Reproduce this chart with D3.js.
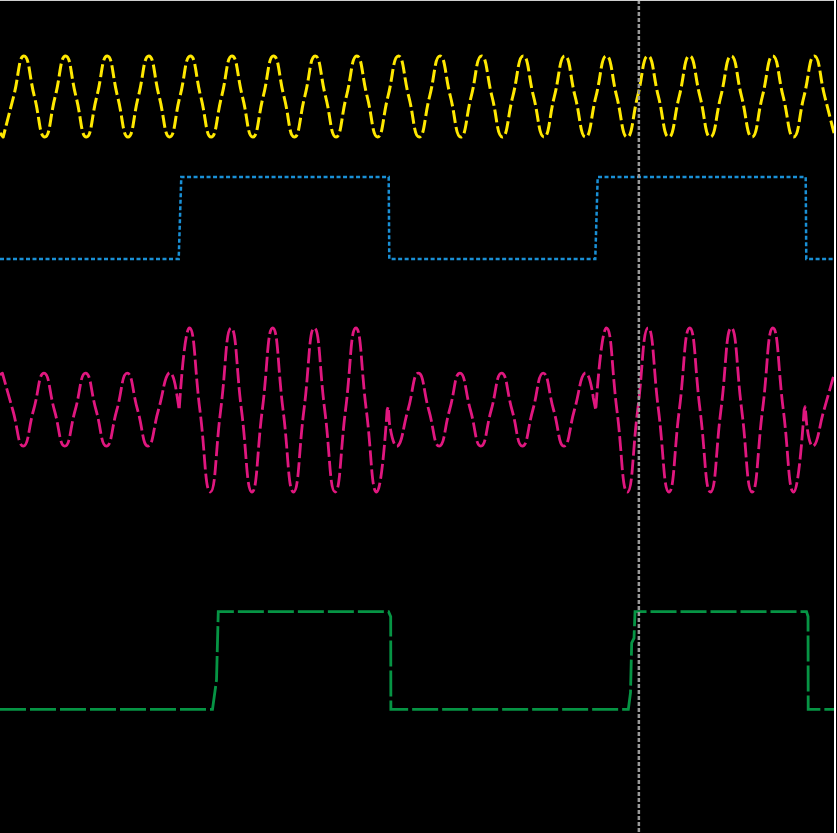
<!DOCTYPE html>
<html>
<head>
<meta charset="utf-8">
<script src="https://cdn.jsdelivr.net/npm/d3@7"></script>
<style>
html,body{margin:0;padding:0;background:#000;overflow:hidden}
svg{display:block}
</style>
</head>
<body>
<svg id="chart" width="837" height="833"></svg>
<script>
// ---------- data (time in ms, values in signal units) ----------
// carrier: key points (troughs, zero crossings, peaks)
const carrierT = [0, 3.8, 16.3, 28.7, 41.2, 53.6, 66.1, 78.5, 91.0, 103.4, 115.9, 128.4, 140.8, 153.3, 165.7, 178.2,
  190.6, 203.1, 215.5, 228.0, 240.4, 252.9, 265.4, 277.8, 290.3, 302.7, 315.2, 327.6, 340.1, 352.5, 365.0, 377.5,
  389.9, 402.4, 414.8, 427.3, 439.7, 452.2, 464.6, 477.1, 489.5, 502.0, 514.5, 526.9, 539.4, 551.8, 564.3, 576.7,
  589.2, 601.6, 614.1, 626.6, 639.0, 651.5, 663.9, 676.4, 688.8, 701.3, 713.7, 726.2, 738.6, 751.1, 763.6, 776.0,
  788.5, 800.9, 813.4, 825.8, 838.3, 850.7, 863.2, 875.7, 888.1, 900.6, 913.0, 925.5, 937.9, 950.4, 962.8, 975.3,
  987.7, 1000];
const carrierV = [-0.9,
  -1, 0, 1, 0, -1, 0, 1, 0, -1, 0, 1, 0, -1, 0, 1, 0, -1, 0, 1, 0,
  -1, 0, 1, 0, -1, 0, 1, 0, -1, 0, 1, 0, -1, 0, 1, 0, -1, 0, 1, 0,
  -1, 0, 1, 0, -1, 0, 1, 0, -1, 0, 1, 0, -1, 0, 1, 0, -1, 0, 1, 0,
  -1, 0, 1, 0, -1, 0, 1, 0, -1, 0, 1, 0, -1, 0, 1, 0, -1, 0, 1, 0,
  -1];

// data bits (square wave)
const dataT = [0, 214.0, 217.1, 465.5, 466.2, 712.9, 715.8, 964.9, 965.6, 1000];
const dataV = [0, 0, 1, 1, 0, 0, 1, 1, 0, 0];

// modulated signal key points
const modT = [0, 2.9, 15.3, 27.8, 40.2, 52.7, 65.1, 77.6, 90.1, 102.5, 115.0, 127.4, 139.9, 152.3, 164.8, 177.2,
  189.7, 202.2, 211.6, 214.6,
  226.9, 239.4, 251.9, 264.3, 276.8, 289.2, 301.7, 314.1, 326.6, 339.0, 351.5, 364.0, 376.4, 388.9, 401.3, 413.8,
  426.2, 438.7, 451.1, 463.6, 465.0, 466.3,
  476.2, 488.6, 501.1, 513.5, 526.0, 538.4, 550.9, 563.4, 575.8, 588.3, 600.7, 613.2, 625.6, 638.1, 650.5, 663.0,
  675.4, 687.9, 700.4, 710.5, 713.5,
  726.3, 738.8, 751.3, 763.7, 776.2, 788.6, 801.1, 813.5, 826.0, 838.4, 850.9, 863.4, 875.8, 888.3, 900.7, 913.2,
  925.6, 938.1, 950.5, 963.0, 964.3, 965.9,
  974.4, 986.8, 999.3];
const modV = [0.43, 0.45, 0, -0.44, 0, 0.45, 0, -0.44, 0, 0.45, 0, -0.44, 0, 0.45, 0, -0.44,
  0, 0.45, 0.2, 0,
  1, 0, -1, 0, 1, 0, -1, 0, 1, 0, -1, 0, 1, 0, -1, 0,
  1, 0, -1, 0, 0.04, -0.15,
  -0.44, 0, 0.45, 0, -0.44, 0, 0.45, 0, -0.44, 0, 0.45, 0, -0.44, 0, 0.45, 0,
  -0.44, 0, 0.45, 0.15, 0,
  1, 0, -1, 0, 1, 0, -1, 0, 1, 0, -1, 0, 1, 0, -1, 0,
  1, 0, -1, 0, 0.04, -0.15,
  -0.44, 0, 0.45];

// demodulated output
const outT = [0, 254.5, 259.3, 261.4, 465.3, 467.9, 468.1, 752.5, 755.1, 756.5, 759.3, 760.5, 965.9, 967.7, 967.9, 1000];
const outV = [0, 0, 0.3, 1, 1, 0.95, 0, 0, 0.17, 0.68, 0.73, 1, 1, 0.95, 0, 0];

// cursor marker
const cursorT = [765.1];

// ---------- layout ----------
const W = 837, H = 833, plotW = 835;
const svg = d3.select("#chart");
const x = d3.scaleLinear().domain([0, 1000]).range([0, plotW]);
const yCarrier = d3.scaleLinear().domain([-1, 1]).range([137, 56]);
const yData = d3.scaleLinear().domain([0, 1]).range([259, 177]);
const yMod = d3.scaleLinear().domain([-1, 1]).range([492, 328]);
const yOut = d3.scaleLinear().domain([0, 1]).range([709.3, 611.7]);

svg.append("rect").attr("x", 0).attr("y", 0).attr("width", W).attr("height", H).attr("fill", "#000");

const smooth = d3.line().curve(d3.curveCardinal.tension(-0.55));
const straight = d3.line();

function buildPath(T, V, yS) {
  const pts = T.map((t, i) => [x(t), yS(V[i])]);
  let d = "";
  let run = [pts[0]];
  const flush = () => {
    if (run.length > 1) {
      let s = smooth(run);
      d += d ? s.replace(/^M/, "L") : s;
    }
  };
  for (let i = 1; i < pts.length; i++) {
    if (T[i] - T[i - 1] >= 4) {
      run.push(pts[i]);
    } else {
      flush();
      if (!d) d = "M" + pts[i - 1][0] + "," + pts[i - 1][1];
      d += "L" + pts[i][0] + "," + pts[i][1];
      run = [pts[i]];
    }
  }
  flush();
  return d;
}

svg.append("path")
  .attr("d", buildPath(carrierT, carrierV, yCarrier))
  .attr("fill", "none").attr("stroke", "#ffe800").attr("stroke-width", 3)
  .attr("stroke-linejoin", "round")
  .attr("stroke-dasharray", "13,4");

svg.append("path")
  .attr("d", straight(dataT.map((t, i) => [x(t), yData(dataV[i])])))
  .attr("fill", "none").attr("stroke", "#1a90d6").attr("stroke-width", 2.5)
  .attr("stroke-dasharray", "4,2.5");

svg.append("path")
  .attr("d", buildPath(modT, modV, yMod))
  .attr("fill", "none").attr("stroke", "#e0177f").attr("stroke-width", 2.8)
  .attr("stroke-linejoin", "round")
  .attr("stroke-dasharray", "15,4");

svg.append("path")
  .attr("d", straight(outT.map((t, i) => [x(t), yOut(outV[i])])))
  .attr("fill", "none").attr("stroke", "#069444").attr("stroke-width", 2.8)
  .attr("stroke-dasharray", "26,4");

svg.selectAll("line.cursor").data(cursorT).enter().append("line")
  .attr("class", "cursor")
  .attr("x1", d => x(d)).attr("x2", d => x(d))
  .attr("y1", 0).attr("y2", H)
  .attr("stroke", "#9a9a9a").attr("stroke-width", 2.5)
  .attr("stroke-dasharray", "4,2");

// frame
svg.append("line").attr("x1", 0).attr("x2", plotW).attr("y1", 0.5).attr("y2", 0.5)
  .attr("stroke", "#cfcfcf").attr("stroke-width", 1);
svg.append("line").attr("x1", plotW).attr("x2", plotW).attr("y1", 0).attr("y2", H)
  .attr("stroke", "#ffffff").attr("stroke-width", 2);
</script>
</body>
</html>
